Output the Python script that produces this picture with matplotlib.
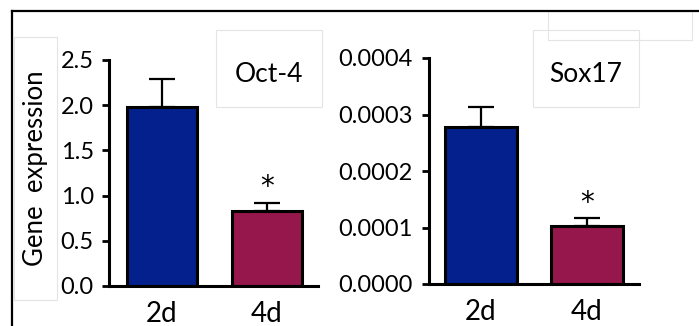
import matplotlib
matplotlib.use("Agg")
import matplotlib.pyplot as plt
from matplotlib.patches import Rectangle
from matplotlib.lines import Line2D

plt.rcParams['font.family'] = ['Lato', 'DejaVu Sans']

days = ['2d', '4d']
oct4_mean = [1.98, 0.83]
oct4_err = [0.31, 0.09]
sox17_mean = [0.000278, 0.000102]
sox17_err = [0.000036, 0.000014]
bar_colors = ['#03208c', '#96174b']

W, H = 699, 326
fig = plt.figure(figsize=(W / 100, H / 100), dpi=100)


def px_axes(x0, x1, y_top, y_bot):
    return fig.add_axes([x0 / W, 1 - y_bot / H, (x1 - x0) / W, (y_bot - y_top) / H])


def px_box(x0, y0, x1, y1, **kw):
    fig.add_artist(Rectangle((x0 / W, 1 - y1 / H), (x1 - x0) / W, (y1 - y0) / H,
                             transform=fig.transFigure, fill=False, **kw))


# outer frame: top and left edges only
fig.add_artist(Line2D([12 / W, 1], [1 - 11 / H, 1 - 11 / H], color='black', lw=1.6,
                      transform=fig.transFigure))
fig.add_artist(Line2D([12 / W, 12 / W], [0, 1 - 11 / H], color='black', lw=1.6,
                      transform=fig.transFigure))

# faint text-box outlines
faint = dict(edgecolor='#e4e4e4', lw=0.8)
px_box(14, 37, 57, 300, **faint)
px_box(216, 30, 322, 107, **faint)
px_box(533, 30, 639, 107, **faint)
px_box(548, 11, 692, 40, **faint)


def panel(ax, means, errs, ymax, yticks, fmt, xlim, bar_w, ypad):
    x = range(len(means))
    ax.bar(x, means, width=bar_w, color=bar_colors, edgecolor='black', linewidth=2.2,
           zorder=2)
    ax.errorbar(x, means, yerr=[[0] * len(errs), errs], fmt='none', ecolor='black',
                elinewidth=1.6, capsize=9.5, capthick=1.6, zorder=1)
    ax.set_ylim(0, ymax)
    ax.set_xlim(*xlim)
    ax.set_yticks(yticks)
    ax.set_yticklabels([fmt.format(v) for v in yticks], fontsize=17)
    ax.set_xticks(list(x))
    ax.set_xticklabels(days, fontsize=20)
    ax.tick_params(axis='y', length=5, width=2, pad=ypad)
    ax.tick_params(axis='x', length=0, pad=11)
    for s in ['top', 'right']:
        ax.spines[s].set_visible(False)
    for s in ['left', 'bottom']:
        ax.spines[s].set_linewidth(2.2)
    ax.patch.set_alpha(0)
    # significance mark over the 4d bar (DejaVu's asterisk sits well above baseline)
    ax.text(1, means[1] + errs[1] + ymax * 0.035, '*', ha='center', va='baseline',
            fontsize=20, family='DejaVu Sans')


ax1 = px_axes(109, 318, 60, 286)
panel(ax1, oct4_mean, oct4_err, 2.5, [0, 0.5, 1.0, 1.5, 2.0, 2.5], '{:.1f}',
      (-0.505, 1.486), 0.667, 6)
fig.text(36 / W, 1 - 168 / H, 'Gene  expression', rotation=90, ha='center',
         va='center', fontsize=18.5)
fig.text(269 / W, 1 - 82 / H, 'Oct-4', ha='center', va='baseline', fontsize=19)

ax2 = px_axes(429, 639, 58, 284)
panel(ax2, sox17_mean, sox17_err, 0.0004, [0, 0.0001, 0.0002, 0.0003, 0.0004],
      '{:.4f}', (-0.49, 1.49), 0.68, 7)
fig.text(586 / W, 1 - 82 / H, 'Sox17', ha='center', va='baseline', fontsize=19)

fig.savefig('out.png', dpi=100)
